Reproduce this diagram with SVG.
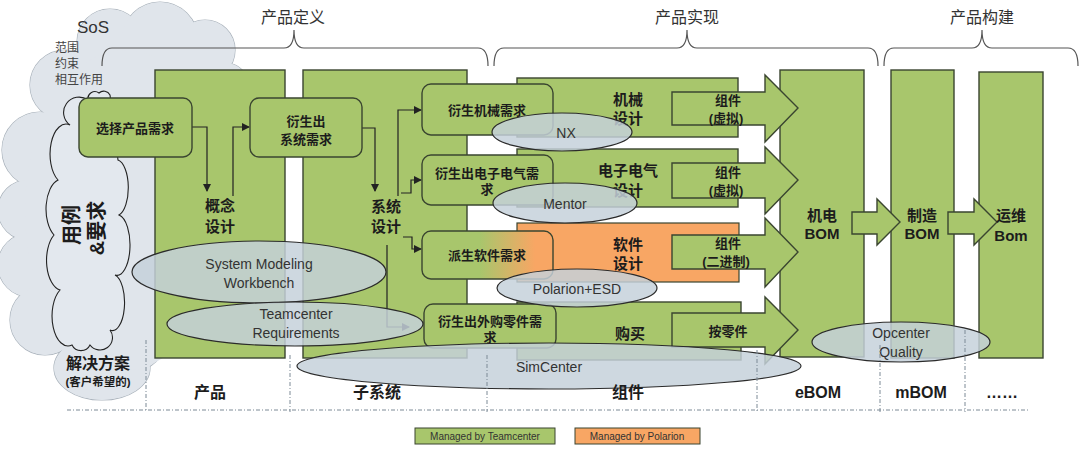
<svg xmlns="http://www.w3.org/2000/svg" width="1080" height="455" viewBox="0 0 1080 455">
<defs>
<style>
.t{font-family:"Liberation Sans","Noto Sans CJK SC",sans-serif;text-anchor:middle;dominant-baseline:central}
.b{font-weight:bold;font-size:13px;fill:#1c1c1c}
.m{font-weight:bold;font-size:15px;fill:#1c1c1c}
.lb{font-weight:bold;font-size:16px;fill:#1c1c1c}
.e{font-size:14px;fill:#333}
.hd{font-size:16px;fill:#333}
.col{fill:#a8c66c;stroke:#3a4530;stroke-width:1.4}
.box{fill:#a8c66c;stroke:#3a4530;stroke-width:1.4}
.org{fill:#f8a664;stroke:#3a4530;stroke-width:1.2}
.ell{fill:#c5d0da;fill-opacity:0.84;stroke:#2b2b2b;stroke-width:1.2}
.cn{fill:none;stroke:#222;stroke-width:1.2}
.br{fill:none;stroke:#555;stroke-width:1.2}
.dd{fill:none;stroke:#7d8a96;stroke-width:1;stroke-dasharray:4 2 1 2}
.cs{fill:none;stroke:#a9b2bb;stroke-width:1.2}
.cf{fill:#e0e5eb;stroke:none}
</style>
<marker id="ah" markerWidth="8" markerHeight="8" refX="7" refY="4" orient="auto" markerUnits="userSpaceOnUse">
<path d="M0,0 L8,4 L0,8 z" fill="#222"/>
</marker>
<linearGradient id="gsw" gradientUnits="userSpaceOnUse" x1="480" y1="0" x2="535" y2="0">
<stop offset="0" stop-color="#a8c66c"/>
<stop offset="1" stop-color="#f8a664"/>
</linearGradient>
</defs>
<rect width="1080" height="455" fill="#fff"/>

<g id="cloud">
<g class="cs">
<circle cx="40" cy="150" r="38"/><circle cx="28" cy="210" r="30"/><circle cx="30" cy="265" r="32"/>
<circle cx="45" cy="320" r="35"/><ellipse cx="102" cy="368" rx="48" ry="32"/><circle cx="135" cy="340" r="30"/>
<circle cx="65" cy="85" r="35"/><circle cx="110" cy="42" r="33"/><circle cx="160" cy="40" r="38"/>
<circle cx="205" cy="50" r="30"/><circle cx="226" cy="85" r="22"/>
</g>
<g class="cf">
<circle cx="40" cy="150" r="38"/><circle cx="28" cy="210" r="30"/><circle cx="30" cy="265" r="32"/>
<circle cx="45" cy="320" r="35"/><ellipse cx="102" cy="368" rx="48" ry="32"/><circle cx="135" cy="340" r="30"/>
<circle cx="65" cy="85" r="35"/><circle cx="110" cy="42" r="33"/><circle cx="160" cy="40" r="38"/>
<circle cx="205" cy="50" r="30"/><circle cx="226" cy="85" r="22"/>
<ellipse cx="125" cy="210" rx="100" ry="160"/>
</g>
<text class="t" x="93" y="27" style="font-size:17px;fill:#333">SoS</text>
<text x="55" y="52" style="font-family:'Liberation Sans','Noto Sans CJK SC',sans-serif;font-size:12px;fill:#444">范围</text>
<text x="55" y="68" style="font-family:'Liberation Sans','Noto Sans CJK SC',sans-serif;font-size:12px;fill:#444">约束</text>
<text x="55" y="84" style="font-family:'Liberation Sans','Noto Sans CJK SC',sans-serif;font-size:12px;fill:#444">相互作用</text>
</g>

<g id="usecase">
<path d="M72 345 A16 30 0 0 1 60 290 A16 30 0 0 1 54 235 A16 30 0 0 1 58 180 A16 30 0 0 1 70 125 A12 12 0 0 1 88 100 A7 7 0 0 1 99 93 A7 7 0 0 1 110 95 L118 160 A12 28 0 0 1 119 215 A12 28 0 0 1 115 275 A12 28 0 0 1 110 330 A12 12 0 0 1 90 345 A10 10 0 0 1 72 345 Z" fill="#e3e8ee" stroke="#222" stroke-width="1.1"/>
<text class="t" transform="translate(72 225) rotate(-90)" style="font-weight:bold;font-size:20px;fill:#1c1c1c">用例</text>
<text class="t" transform="translate(97 228) rotate(-90)" style="font-weight:bold;font-size:20px;fill:#1c1c1c">&amp;要求</text>
<text class="t" x="98" y="363" style="font-weight:bold;font-size:16px;fill:#1c1c1c">解决方案</text>
<text class="t" x="98" y="382" style="font-weight:bold;font-size:11.5px;fill:#1c1c1c">(客户希望的)</text>
</g>

<g id="headers">
<path class="br" d="M102 66 Q102 48 112 48 H284 Q294 48 294 30 Q294 48 304 48 H478 Q488 48 488 66"/>
<text class="t hd" x="293" y="17">产品定义</text>
<path class="br" d="M494 66 Q494 48 504 48 H677 Q687 48 687 30 Q687 48 697 48 H868 Q878 48 878 66"/>
<text class="t hd" x="687" y="17">产品实现</text>
<path class="br" d="M884 66 Q884 48 894 48 H972 Q982 48 982 30 Q982 48 992 48 H1068 Q1078 48 1078 66"/>
<text class="t hd" x="982" y="17">产品构建</text>
</g>

<g id="product-col"><rect class="col" x="155" y="70" width="130" height="288"/></g>
<g id="subsystem-col"><rect class="col" x="303" y="70" width="164" height="288"/></g>
<g id="mech-row"><rect class="col" x="517" y="78" width="221" height="59"/></g>
<g id="elec-row"><rect class="col" x="517" y="149" width="221" height="58"/></g>
<g id="sw-row"><rect class="org" x="517" y="223" width="222" height="59"/></g>
<g id="buy-row"><rect class="col" x="517" y="302" width="224" height="58"/></g>
<g id="ebom"><rect class="col" x="780" y="70" width="84" height="287"/></g>
<g id="mbom"><rect class="col" x="891" y="70" width="63" height="288"/></g>
<g id="obom"><rect class="col" x="979" y="72" width="64" height="286"/></g>

<g id="connectors">
<path class="cn" d="M192 127 H207 V191" marker-end="url(#ah)"/>
<path class="cn" d="M233 196 V127 H249" marker-end="url(#ah)"/>
<path class="cn" d="M362 128 H375 V191" marker-end="url(#ah)"/>
<path class="cn" d="M398 196 V110 H421" marker-end="url(#ah)"/>
<path class="cn" d="M401 193 H411 V180 H421" marker-end="url(#ah)"/>
<path class="cn" d="M403 237 H412 V249 H421" marker-end="url(#ah)"/>
<path class="cn" d="M387 245 V327 H409" marker-end="url(#ah)"/>
<polygon class="col" points="672,92 765,92 765,75 798,108 765,142 765,125 672,125"/>
<polygon class="col" points="672,163 765,163 765,147 798,180 765,214 765,198 672,198"/>
<polygon class="col" points="672,235 765,235 765,218 798,252 765,287 765,269 672,269"/>
<polygon class="col" points="672,313 765,313 765,297 798,330 765,364 765,347 672,347"/>
<polygon class="col" points="852,212 877,212 877,199 900,222 877,245 877,234 852,234"/>
<polygon class="col" points="948,212 974,212 974,199 997,222 974,245 974,234 948,234"/>
</g>

<g id="n-select"><rect class="box" x="79" y="98" width="113" height="59" rx="9"/><text class="t b" x="135" y="128">选择产品需求</text></g>
<g id="n-concept"><text class="t m" x="220" y="205">概念</text><text class="t m" x="220" y="226">设计</text></g>
<g id="n-sysreq"><rect class="box" x="250" y="98" width="112" height="59" rx="9"/><text class="t b" x="306" y="121">衍生出</text><text class="t b" x="306" y="139">系统需求</text></g>
<g id="n-sysdesign"><text class="t m" x="386" y="206">系统</text><text class="t m" x="386" y="226">设计</text></g>
<g id="n-mechreq"><rect class="box" x="422" y="84" width="131" height="51" rx="9"/><text class="t b" x="487" y="110">衍生机械需求</text></g>
<g id="n-elecreq"><rect class="box" x="422" y="155" width="131" height="50" rx="9"/><text class="t b" x="487" y="173">衍生出电子电气需</text><text class="t b" x="487" y="189">求</text></g>
<g id="n-swreq"><rect x="422" y="231" width="131" height="48" rx="9" fill="url(#gsw)" stroke="#3a4530" stroke-width="1.4"/><text class="t b" x="487" y="255">派生软件需求</text></g>
<g id="n-buyreq"><rect class="box" x="424" y="304" width="132" height="44" rx="9"/><text class="t b" x="490" y="321">衍生出外购零件需</text><text class="t b" x="490" y="337">求</text></g>

<g id="row-labels">
<text class="t m" x="628" y="99">机械</text><text class="t m" x="628" y="118">设计</text>
<text class="t m" x="628" y="170">电子电气</text><text class="t m" x="628" y="190">设计</text>
<text class="t m" x="628" y="244">软件</text><text class="t m" x="628" y="263">设计</text>
<text class="t m" x="630" y="333">购买</text>
<text class="t b" x="728" y="100">组件</text><text class="t b" x="726" y="118">(虚拟)</text>
<text class="t b" x="728" y="172">组件</text><text class="t b" x="726" y="190">(虚拟)</text>
<text class="t b" x="728" y="243">组件</text><text class="t b" x="726" y="261">(二进制)</text>
<text class="t b" x="728" y="331">按零件</text>
<text class="t m" x="822" y="215">机电</text><text class="t m" x="822" y="233">BOM</text>
<text class="t m" x="922" y="215">制造</text><text class="t m" x="922" y="233">BOM</text>
<text class="t m" x="1011" y="215">运维</text><text class="t m" x="1011" y="235">Bom</text>
</g>

<g id="e-smw"><ellipse class="ell" cx="259" cy="272" rx="127" ry="31"/><text class="t e" x="259" y="264">System Modeling</text><text class="t e" x="259" y="283">Workbench</text></g>
<g id="e-tcr"><ellipse class="ell" cx="295" cy="324" rx="128" ry="22"/><text class="t e" x="296" y="314">Teamcenter</text><text class="t e" x="296" y="333">Requirements</text></g>
<g id="e-nx"><ellipse class="ell" cx="562" cy="132" rx="70" ry="19"/><text class="t e" x="566" y="133">NX</text></g>
<g id="e-mentor"><ellipse class="ell" cx="565" cy="203" rx="72" ry="20"/><text class="t e" x="565" y="204">Mentor</text></g>
<g id="e-polarion"><ellipse class="ell" cx="577" cy="288" rx="80" ry="19"/><text class="t e" x="577" y="289">Polarion+ESD</text></g>
<g id="e-simcenter"><ellipse class="ell" cx="549" cy="366" rx="252" ry="23"/><text class="t e" x="549" y="367">SimCenter</text></g>
<g id="e-opcenter"><ellipse class="ell" cx="901" cy="342" rx="89" ry="20"/><text class="t e" x="901" y="333">Opcenter</text><text class="t e" x="901" y="352">Quality</text></g>

<g id="bottom">
<path class="dd" d="M67 410 H1030"/>
<path class="dd" d="M146 340 V412 M290 355 V412 M487 355 V412 M757 350 V412 M880 345 V412 M965 330 V412"/>
<text class="t lb" x="210" y="392">产品</text>
<text class="t lb" x="377" y="392">子系统</text>
<text class="t lb" x="628" y="392">组件</text>
<text class="t lb" x="818" y="392">eBOM</text>
<text class="t lb" x="921" y="392">mBOM</text>
<text class="t lb" x="1002" y="392">……</text>
</g>

<g id="legend">
<rect x="415" y="428" width="140" height="16" fill="#a8c66c" stroke="#3a4530" stroke-width="1"/>
<text class="t" x="485" y="436" style="font-size:10px;fill:#333">Managed by Teamcenter</text>
<rect x="575" y="428" width="125" height="16" fill="#f8a664" stroke="#3a4530" stroke-width="1"/>
<text class="t" x="637" y="436" style="font-size:10px;fill:#333">Managed by Polarion</text>
</g>
</svg>
